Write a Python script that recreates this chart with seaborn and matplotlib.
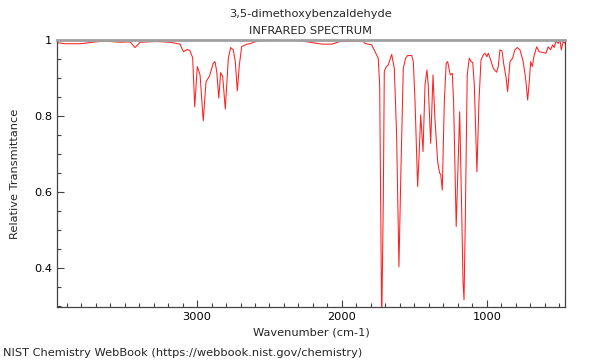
import numpy as np
import pandas as pd
import matplotlib
matplotlib.use("Agg")
import matplotlib.pyplot as plt
from matplotlib.ticker import MultipleLocator, FixedLocator, FuncFormatter
import seaborn as sns

compound = "3,5-dimethoxybenzaldehyde"

# spectrum (wavenumber in cm-1, relative transmittance)
wavenumber = [
    3966, 3910, 3807, 3697, 3635, 3531, 3462, 3428, 3393, 3290, 3186, 3117,
    3094, 3067, 3048, 3030, 3016, 2998, 2979, 2957, 2938, 2915, 2888, 2876,
    2864, 2850, 2837, 2823, 2805, 2784, 2768, 2750, 2736, 2722, 2708, 2692,
    2657, 2634, 2588, 2450, 2290, 2138, 2069, 2014, 1855, 1841, 1795, 1767,
    1750, 1740, 1731, 1726, 1715, 1708, 1694, 1681, 1657, 1639, 1623, 1607,
    1593, 1577, 1561, 1547, 1519, 1508, 1496, 1478, 1467, 1457, 1450, 1441,
    1427, 1414, 1405, 1388, 1372, 1359, 1340, 1326, 1319, 1308, 1294, 1281,
    1271, 1253, 1239, 1230, 1212, 1200, 1188, 1174, 1165, 1158, 1149, 1136,
    1122, 1110, 1098, 1087, 1069, 1055, 1041, 1025, 1014, 1000, 991, 979,
    956, 933, 922, 910, 896, 883, 869, 857, 841, 823, 807, 791,
    772, 750, 733, 719, 708, 698, 687, 676, 657, 639, 611, 593,
    577, 561, 547, 536, 524, 508, 496, 487, 474, 460,
]
transmittance = [
    0.993, 0.990, 0.990, 0.995, 0.997, 0.994, 0.995, 0.980, 0.994, 0.996, 0.994, 0.989,
    0.969, 0.975, 0.971, 0.953, 0.824, 0.930, 0.908, 0.787, 0.890, 0.904, 0.939, 0.943,
    0.917, 0.847, 0.914, 0.904, 0.818, 0.952, 0.980, 0.974, 0.943, 0.866, 0.934, 0.982,
    0.989, 0.990, 0.997, 1.000, 0.998, 0.989, 0.989, 0.996, 0.997, 0.991, 0.987, 0.965,
    0.952, 0.882, 0.487, 0.250, 0.574, 0.917, 0.930, 0.934, 0.962, 0.925, 0.750, 0.403,
    0.663, 0.925, 0.952, 0.959, 0.959, 0.943, 0.838, 0.614, 0.706, 0.803, 0.759, 0.706,
    0.882, 0.921, 0.882, 0.728, 0.908, 0.794, 0.680, 0.649, 0.647, 0.605, 0.838, 0.939,
    0.943, 0.908, 0.912, 0.838, 0.509, 0.662, 0.811, 0.548, 0.364, 0.316, 0.531, 0.908,
    0.952, 0.943, 0.941, 0.882, 0.653, 0.838, 0.947, 0.961, 0.965, 0.956, 0.965, 0.953,
    0.925, 0.915, 0.930, 0.974, 0.971, 0.934, 0.904, 0.864, 0.943, 0.952, 0.974, 0.980,
    0.974, 0.943, 0.899, 0.842, 0.890, 0.943, 0.930, 0.956, 0.982, 0.969, 0.967, 0.965,
    0.982, 0.974, 0.987, 0.980, 0.997, 0.991, 1.000, 0.974, 0.996, 0.991,
]
y_ticks = [0.4, 0.6, 0.8, 1.0]
x_ticks = [1000, 2000, 3000]

df = pd.DataFrame({"wn": wavenumber, "T": transmittance})

sns.set_style("ticks")
plt.rcParams["font.family"] = ["DejaVu Sans"]
fs = 8.2

fig = plt.figure(figsize=(6, 3.6), dpi=100)
ax = fig.add_axes([0.095, 0.147, 0.847, 0.742])
sns.lineplot(data=df, x="wn", y="T", sort=False, estimator=None,
             color="#ff2020", linewidth=0.75, ax=ax)

ax.set_xlim(3966, 460)
ax.set_ylim(0.297, 1.0)
ax.xaxis.set_major_locator(FixedLocator(x_ticks))
ax.xaxis.set_minor_locator(MultipleLocator(100))
ax.yaxis.set_major_locator(FixedLocator(y_ticks))
ax.yaxis.set_minor_locator(MultipleLocator(0.05))
ax.yaxis.set_major_formatter(FuncFormatter(lambda v, p: "%g" % round(v, 2)))
ax.tick_params(which="both", direction="in", colors="#444444", labelcolor="black",
               labelsize=fs, top=False, right=False)
ax.tick_params(which="major", length=5, width=0.8)
ax.tick_params(which="minor", length=3, width=0.8)

for side in ["left", "bottom", "right"]:
    ax.spines[side].set_color("#444444")
    ax.spines[side].set_linewidth(0.9)
ax.spines["top"].set_color("#a0a0a0")
ax.spines["top"].set_linewidth(2)

ax.set_xlabel("Wavenumber (cm-1)", fontsize=fs, labelpad=4)
ax.set_ylabel("Relative Transmittance", fontsize=fs, labelpad=10)

fig.text(0.518, 0.962, compound, ha="center", va="center", fontsize=fs)
fig.text(0.518, 0.915, "INFRARED SPECTRUM", ha="center", va="center", fontsize=fs)
fig.text(0.005, 0.02, "NIST Chemistry WebBook (https://webbook.nist.gov/chemistry)",
         ha="left", va="center", fontsize=fs)

fig.savefig("out.png", dpi=100)
